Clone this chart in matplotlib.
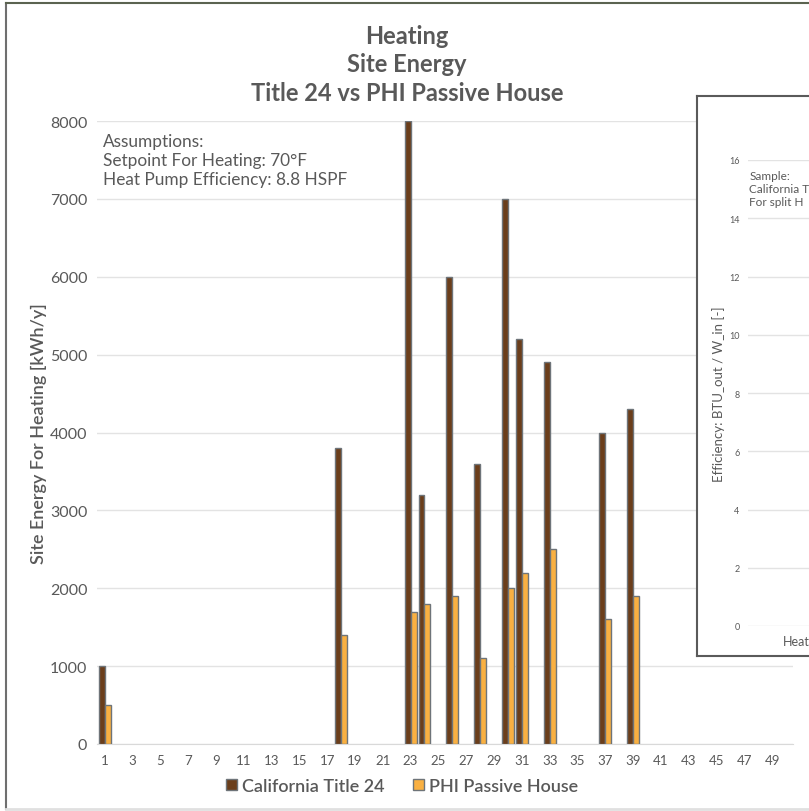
import matplotlib.pyplot as plt
from matplotlib.patches import Patch
from matplotlib.lines import Line2D

plt.rcParams['font.family'] = ['Lato', 'DejaVu Sans']

# sites with heating energy (kWh/y)
sites = [1, 18, 23, 24, 26, 28, 30, 31, 33, 37, 39]
title24 = [1000, 3800, 8000, 3200, 6000, 3600, 7000, 5200, 4900, 4000, 4300]
passive = [500, 1400, 1700, 1800, 1900, 1100, 2000, 2200, 2500, 1600, 1900]
xticks = list(range(1, 50, 2))
yticks = [0, 1000, 2000, 3000, 4000, 5000, 6000, 7000, 8000]
inset_ticks = [0, 2, 4, 6, 8, 10, 12, 14, 16]

text_col = '#595959'
brown = '#6B3E1B'
orange = '#F9B042'
edge = '#6E7479'

fig = plt.figure(figsize=(8.09, 8.12), dpi=100)
W, H = 809, 812

ax = fig.add_axes([97 / W, 1 - 745 / H, 696 / W, 623 / H])
w = 0.43
ax.bar([s - w / 2 for s in sites], title24, width=w, color=brown,
       edgecolor=edge, linewidth=1, zorder=3)
ax.bar([s + w / 2 for s in sites], passive, width=w, color=orange,
       edgecolor=edge, linewidth=1, zorder=3)
ax.set_xlim(0.45, 50.5)
ax.set_ylim(0, 8000)
ax.set_xticks(xticks)
ax.set_xticklabels([str(t) for t in xticks], fontsize=9.5, color=text_col)
ax.set_yticks(yticks)
ax.set_yticklabels([str(t) for t in yticks], fontsize=11.5, color=text_col)
ax.tick_params(length=0, pad=7)
ax.grid(axis='y', color='#E3E3E3', linewidth=1, zorder=0)
for sp in ['top', 'right', 'left']:
    ax.spines[sp].set_visible(False)
ax.spines['bottom'].set_color('#D9D9D9')
ax.set_ylabel('Site Energy For Heating [kWh/y]', fontsize=13,
              color=text_col, fontweight='semibold')
ax.yaxis.set_label_coords(-0.072, 0.5)

ax.text(0.008, 0.98, 'Assumptions:\nSetpoint For Heating: 70°F\nHeat Pump Efficiency: 8.8 HSPF',
        transform=ax.transAxes, ha='left', va='top', fontsize=12.4,
        color=text_col, linespacing=1.2)

fig.text(0.503, 1 - 65 / H, 'Heating\nSite Energy\nTitle 24 vs PHI Passive House',
         ha='center', va='center', fontsize=17, fontweight='bold',
         color=text_col, linespacing=1.27)

handles = [Patch(facecolor=brown, edgecolor=edge, label='California Title 24'),
           Patch(facecolor=orange, edgecolor=edge, label='PHI Passive House')]
leg = fig.legend(handles=handles, loc='center', bbox_to_anchor=(0.497, 1 - 787 / H),
                 ncol=2, frameon=False, fontsize=13, handlelength=0.6,
                 handleheight=0.6, handletextpad=0.25, columnspacing=1.6)
for t in leg.get_texts():
    t.set_color(text_col)
    t.set_fontweight('semibold')

# pasted efficiency chart, cut off at the right edge
box = fig.add_axes([697 / W, 1 - 657 / H, 0.5, 560 / H])
box.set_xticks([])
box.set_yticks([])
box.set_facecolor('white')
for sp in box.spines.values():
    sp.set_color('#5A5A5A')
    sp.set_linewidth(1.5)

inner = fig.add_axes([748 / W, 1 - 627 / H, 0.4, 466 / H])
inner.set_ylim(0, 16)
inner.set_xlim(0, 1)
inner.set_yticks(inset_ticks)
inner.set_yticklabels([str(t) for t in inset_ticks], fontsize=6.5, color=text_col)
inner.set_xticks([])
inner.tick_params(length=0, pad=6)
inner.grid(axis='y', color='#E3E3E3', linewidth=1)
inner.patch.set_alpha(0)
for sp in inner.spines.values():
    sp.set_visible(False)
inner.set_ylabel('Efficiency: BTU_out / W_in [-]', fontsize=9.5, color=text_col)
inner.yaxis.set_label_coords(-0.07, 0.5)
inner.text(0.004, 0.978, 'Sample:\nCalifornia T\nFor split H',
           transform=inner.transAxes, ha='left', va='top', fontsize=8.5,
           color=text_col, linespacing=1.2)
inner.text(35 / 323, -15 / 466, 'Heat', transform=inner.transAxes,
           ha='left', va='center', fontsize=9, color=text_col)

# screenshot frame
fig.add_artist(Line2D([6 / W, 6 / W], [2 / H, 1 - 4 / H], color='#6F6F6F', lw=1.5))
fig.add_artist(Line2D([6 / W, 1], [1 - 4 / H, 1 - 4 / H], color='#5B6350', lw=1.5))
fig.add_artist(Line2D([6 / W, 1], [2 / H, 2 / H], color='#E0E0E0', lw=2))

fig.savefig('out.png', dpi=100)
